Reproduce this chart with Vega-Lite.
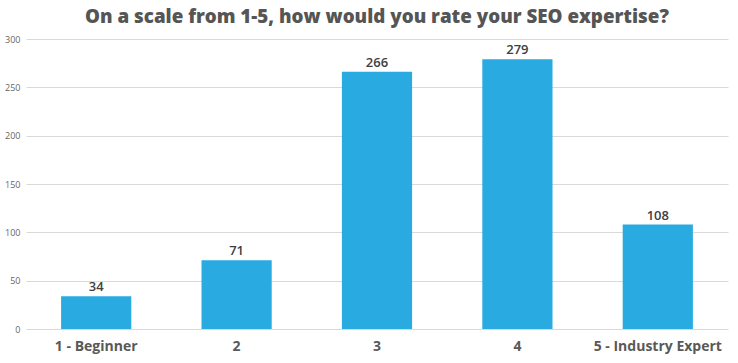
{
  "$schema": "https://vega.github.io/schema/vega-lite/v6.json",
  "autosize": "none",
  "width": 702,
  "height": 290,
  "padding": {"left": 26, "top": 39, "right": 10, "bottom": 34},
  "background": "white",
  "view": {"stroke": null},
  "title": {
    "text": "On a scale from 1-5, how would you rate your SEO expertise?",
    "font": "Open Sans",
    "fontSize": 18.8,
    "fontWeight": 800,
    "color": "#555555",
    "anchor": "middle",
    "offset": 8
  },
  "data": {
    "values": [
      {"rating": "1 - Beginner", "count": 34},
      {"rating": "2", "count": 71},
      {"rating": "3", "count": 266},
      {"rating": "4", "count": 279},
      {"rating": "5 - Industry Expert", "count": 108}
    ]
  },
  "encoding": {
    "x": {
      "field": "rating",
      "type": "nominal",
      "sort": null,
      "scale": {"paddingInner": 0.5, "paddingOuter": 0.25},
      "axis": {
        "title": null,
        "labelAngle": 0,
        "domain": false,
        "ticks": false,
        "labelFont": "Open Sans",
        "labelFontSize": 14,
        "labelFontWeight": "bold",
        "labelColor": "#595959",
        "labelPadding": 10
      }
    },
    "y": {
      "field": "count",
      "type": "quantitative",
      "scale": {"domain": [0, 300]},
      "axis": {
        "title": null,
        "values": [0, 50, 100, 150, 200, 250, 300],
        "domain": false,
        "ticks": false,
        "labelFont": "Open Sans",
        "labelFontSize": 9,
        "labelColor": "#666666",
        "labelPadding": 6,
        "gridColor": "#d9d9d9",
        "gridWidth": 1
      }
    }
  },
  "layer": [
    {"mark": {"type": "bar", "color": "#29ABE2"}},
    {
      "mark": {
        "type": "text",
        "dy": -9,
        "font": "Open Sans",
        "fontSize": 13,
        "fontWeight": 600,
        "color": "#404040"
      },
      "encoding": {"text": {"field": "count", "type": "quantitative"}}
    }
  ]
}
